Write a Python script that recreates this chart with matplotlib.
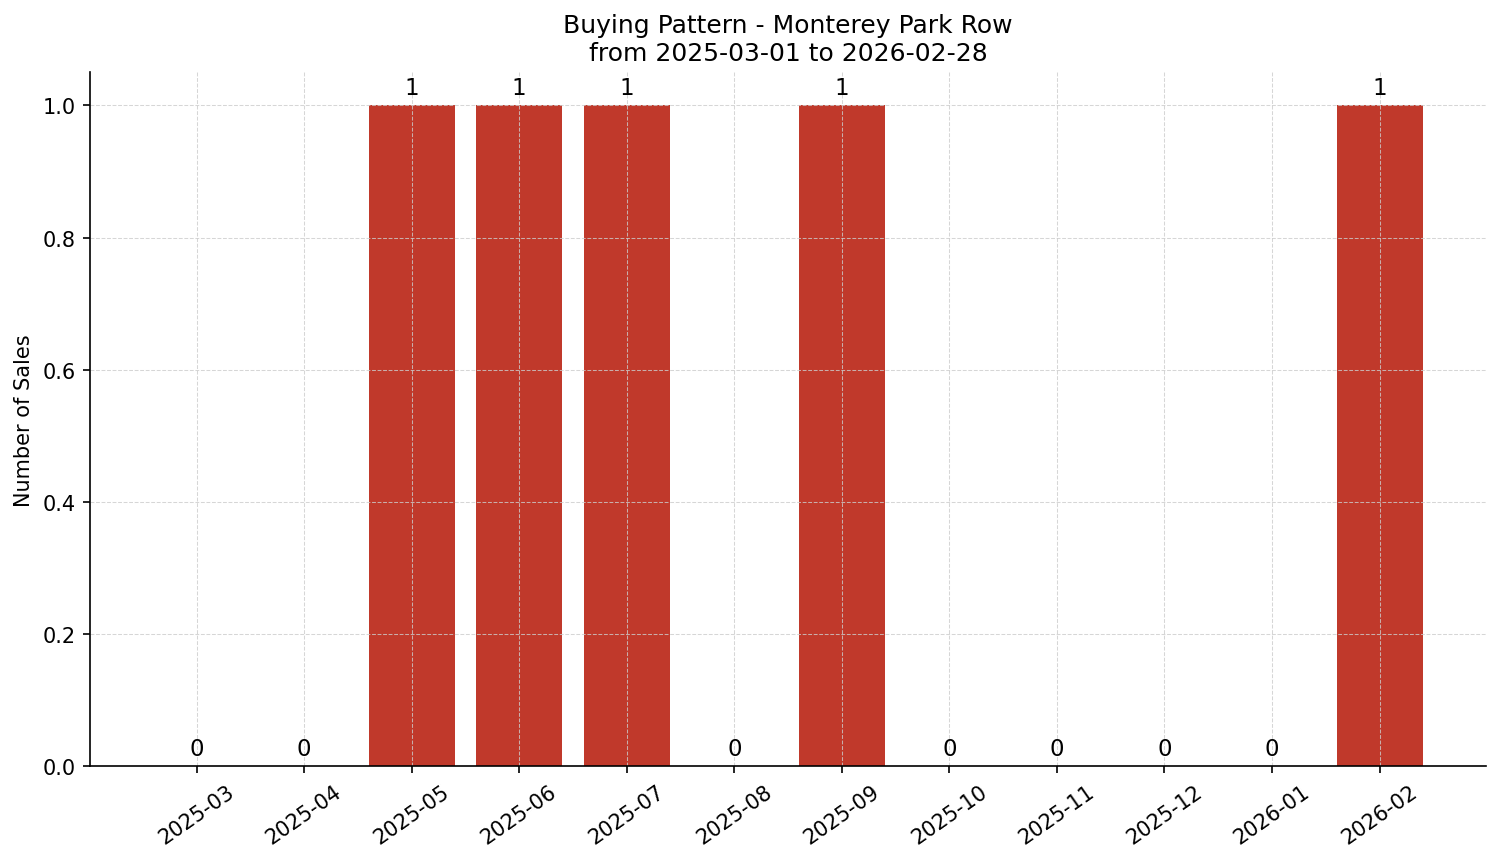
import matplotlib
matplotlib.use("Agg")
from matplotlib import pyplot as plt

months = ["2025-03", "2025-04", "2025-05", "2025-06", "2025-07", "2025-08",
          "2025-09", "2025-10", "2025-11", "2025-12", "2026-01", "2026-02"]
sales = [0, 0, 1, 1, 1, 0, 1, 0, 0, 0, 0, 1]

fig, ax = plt.subplots(figsize=(10.007, 5.753), dpi=150)

bars = ax.bar(months, sales, color="#c0392b", width=0.8)
ax.bar_label(bars, labels=[str(v) for v in sales], padding=3, fontsize=11)

ax.set_title("Buying Pattern - Monterey Park Row\nfrom 2025-03-01 to 2026-02-28", fontsize=12)
ax.set_ylabel("Number of Sales", fontsize=10)
ax.grid(True, linestyle="--", linewidth=0.5, color="#cccccc", alpha=0.8)
ax.spines["top"].set_visible(False)
ax.spines["right"].set_visible(False)
plt.setp(ax.get_xticklabels(), rotation=35)

fig.subplots_adjust(left=0.060, right=0.990, top=0.915, bottom=0.111)
fig.savefig("out.png", dpi=150)
